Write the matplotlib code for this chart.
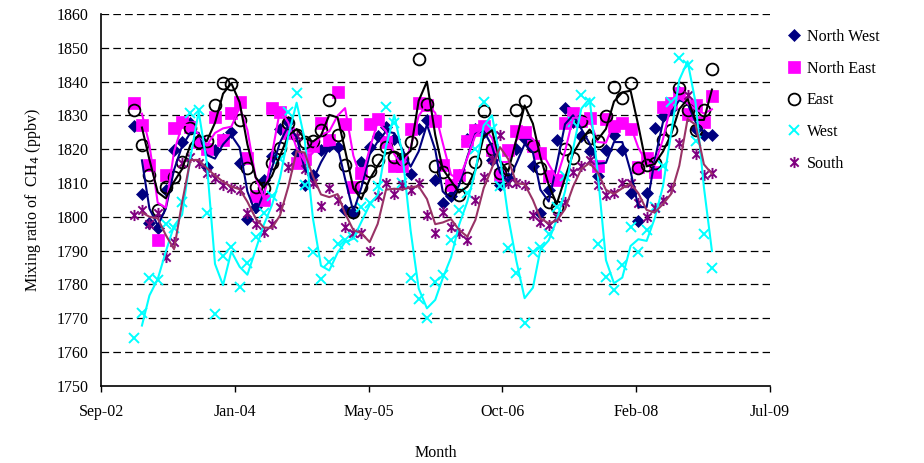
import numpy as np
import pandas as pd
import matplotlib
matplotlib.use("Agg")
import matplotlib.pyplot as plt
import matplotlib.dates as mdates
from matplotlib.path import Path

plt.rcParams['font.family'] = ['Liberation Serif', 'DejaVu Serif']
plt.rcParams['lines.scale_dashes'] = False

# ---------------- data (monthly, Jan 2003 - Dec 2008) ----------------
months = pd.date_range('2003-01-01', periods=72, freq='MS')

north_west = [1826.8, 1806.6, 1798.2, 1796.7, 1808.0, 1819.8, 1822.0, 1827.7, 1822.0, 1814.6, 1819.8, 1823.0,
              1825.2, 1815.8, 1799.2, 1803.0, 1811.0, 1818.0, 1826.0, 1828.0, 1819.0, 1809.4, 1812.4, 1819.8,
              1821.0, 1820.5, 1802.0, 1801.0, 1816.3, 1820.5, 1824.0, 1826.5, 1823.0, 1817.0, 1812.6, 1826.0,
              1828.6, 1811.0, 1804.0, 1806.0, 1812.5, 1823.0, 1826.0, 1825.0, 1816.8, 1809.4, 1811.5, 1820.0,
              1823.0, 1815.0, 1801.0, 1808.0, 1822.7, 1832.1, 1828.0, 1824.0, 1819.4, 1812.0, 1819.9, 1824.3,
              1819.9, 1807.0, 1798.7, 1807.0, 1826.3, 1829.7, 1832.0, 1837.0, 1830.0, 1826.0, 1824.3, 1824.2]

north_east = [1833.8, 1827.2, 1815.3, 1793.0, 1812.4, 1826.2, 1828.0, 1826.5, 1822.2, 1820.0, 1829.6, 1822.7,
              1830.6, 1834.1, 1817.3, 1806.0, 1805.0, 1832.2, 1831.0, 1824.7, 1815.8, 1817.0, 1820.9, 1827.7,
              1822.8, 1837.0, 1827.3, 1808.9, 1813.0, 1827.3, 1828.8, 1822.0, 1815.0, 1815.0, 1826.0, 1833.6,
              1833.2, 1828.3, 1815.4, 1809.5, 1812.5, 1822.3, 1825.8, 1826.8, 1819.9, 1812.5, 1819.9, 1825.3,
              1825.0, 1821.0, 1819.0, 1812.0, 1810.9, 1827.8, 1830.7, 1828.2, 1829.2, 1815.0, 1828.8, 1827.0,
              1827.7, 1826.0, 1814.8, 1817.3, 1813.3, 1832.6, 1833.6, 1836.6, 1830.5, 1833.1, 1828.0, 1835.6]

east = [1831.5, 1821.3, 1812.5, 1802.0, 1808.9, 1811.9, 1816.3, 1826.2, 1822.2, 1822.5, 1833.1, 1839.7,
        1839.3, 1828.5, 1814.4, 1808.9, 1808.4, 1815.8, 1820.3, 1827.7, 1824.2, 1822.2, 1822.3, 1825.7,
        1834.6, 1824.2, 1815.3, 1801.5, 1808.9, 1813.4, 1816.8, 1820.7, 1817.8, 1817.0, 1822.0, 1846.6,
        1833.4, 1815.0, 1813.3, 1807.9, 1806.4, 1811.4, 1816.3, 1831.2, 1820.0, 1813.0, 1814.0, 1831.7,
        1834.2, 1820.9, 1814.4, 1804.5, 1803.0, 1820.0, 1817.4, 1828.3, 1823.3, 1822.3, 1829.7, 1838.5,
        1835.1, 1839.5, 1814.4, 1815.4, 1815.8, 1822.8, 1825.7, 1838.0, 1831.6, 1825.7, 1831.6, 1843.7]

west = [1764.0, 1771.6, 1781.8, 1781.3, 1798.0, 1796.6, 1804.5, 1830.6, 1831.6, 1801.0, 1771.1, 1788.4,
        1791.1, 1779.3, 1786.4, 1794.1, 1801.0, 1806.0, 1817.0, 1831.0, 1836.5, 1809.5, 1789.5, 1781.5,
        1786.7, 1792.0, 1793.0, 1794.0, 1803.0, 1804.0, 1809.0, 1832.6, 1827.6, 1810.0, 1781.8, 1775.8,
        1770.0, 1780.8, 1782.8, 1793.1, 1802.0, 1807.0, 1820.0, 1834.0, 1826.0, 1809.0, 1790.7, 1783.3,
        1768.5, 1789.5, 1791.0, 1795.0, 1803.0, 1812.0, 1828.0, 1836.0, 1834.0, 1792.0, 1782.3, 1778.3,
        1785.7, 1797.0, 1789.7, 1796.0, 1803.0, 1815.0, 1834.0, 1847.0, 1845.0, 1822.5, 1795.0, 1784.7]

south = [1800.5, 1802.0, 1798.0, 1801.0, 1788.2, 1792.6, 1815.8, 1817.8, 1815.8, 1813.0, 1811.4, 1809.4,
         1808.4, 1807.9, 1801.0, 1798.0, 1795.6, 1797.8, 1803.0, 1814.8, 1824.0, 1814.0, 1810.0, 1803.2,
         1808.4, 1805.0, 1797.0, 1795.1, 1795.2, 1789.8, 1806.0, 1810.0, 1806.6, 1809.5, 1808.0, 1810.0,
         1800.5, 1795.1, 1801.5, 1797.1, 1795.1, 1793.1, 1805.0, 1811.9, 1817.0, 1824.2, 1809.9, 1809.9,
         1809.4, 1800.5, 1798.5, 1797.6, 1800.0, 1804.5, 1813.3, 1815.0, 1816.8, 1809.4, 1806.5, 1807.0,
         1809.9, 1809.9, 1804.0, 1800.0, 1802.5, 1805.0, 1808.4, 1821.8, 1836.0, 1818.5, 1812.5, 1812.9]

series_names = ['North West', 'North East', 'East', 'West', 'South']
x_tick_dates = ['2002-09-01', '2004-01-14', '2005-05-28', '2006-10-10', '2008-02-22', '2009-07-06']
x_tick_labels = ['Sep-02', 'Jan-04', 'May-05', 'Oct-06', 'Feb-08', 'Jul-09']
y_ticks = list(range(1750, 1861, 10))

# ---------------- styles ----------------
star = Path([(0, -1), (0, 1), (-0.75, -0.75), (0.75, 0.75), (-0.75, 0.75), (0.75, -0.75)],
            [Path.MOVETO, Path.LINETO, Path.MOVETO, Path.LINETO, Path.MOVETO, Path.LINETO])

styles = [
    dict(marker='D', ms=6.0, mfc='#000080', mec='#000080', mew=0.5, line='#000080'),
    dict(marker='s', ms=8.5, mfc='#FF00FF', mec='#FF00FF', mew=0.5, line='#FF00FF'),
    dict(marker='o', ms=8.5, mfc='none', mec='black', mew=1.3, line='black'),
    dict(marker='x', ms=7.0, mfc='none', mec='#00FFFF', mew=1.4, line='#00FFFF'),
    dict(marker=star, ms=8.0, mfc='none', mec='#800080', mew=1.4, line='#993366'),
]
data = [north_west, north_east, east, west, south]

fig = plt.figure(figsize=(9.24, 4.63), dpi=100)
ax = fig.add_axes([101/924, 1-385.7/463, (770-101)/924, (385.7-14)/463])

x = mdates.date2num(months.to_pydatetime())
handles = []
for name, vals, st in zip(series_names, data, styles):
    v = np.asarray(vals)
    h, = ax.plot(x, v, linestyle='none', marker=st['marker'], ms=st['ms'],
                 mfc=st['mfc'], mec=st['mec'], mew=st['mew'], label=name, zorder=3)
    handles.append(h)

# two-period moving-average trendlines (as in the original spreadsheet chart)
for vals, st in zip(data, styles):
    v = np.asarray(vals)
    ma = (v[1:] + v[:-1]) / 2.0
    ax.plot(x[1:], ma, color=st['line'], lw=1.5, zorder=4)

xt = mdates.date2num(pd.to_datetime(x_tick_dates).to_pydatetime())
ax.set_xlim(xt[0], xt[-1])
ax.set_xticks(xt)
ax.set_xticklabels(x_tick_labels)
ax.set_ylim(1750, 1860)
ax.set_yticks(y_ticks)

for yv in y_ticks[1:]:
    ax.axhline(yv, color='black', lw=0.9, linestyle=(0, (5.5, 3)), zorder=1)

for s in ['top', 'right']:
    ax.spines[s].set_visible(False)
ax.spines['left'].set_linewidth(1.2)
ax.spines['bottom'].set_linewidth(1.2)
ax.tick_params(axis='y', length=0, pad=9, labelsize=11.5)
ax.tick_params(axis='x', length=4, direction='out', pad=9, labelsize=11.5, width=1)

ax.set_ylabel('Mixing ratio of  CH$_4$ (ppbv)', fontsize=11.5, labelpad=10)
ax.set_xlabel('Month', fontsize=11.5, labelpad=18)

fig.legend(handles=handles, labels=series_names, loc='upper left',
           bbox_to_anchor=(787/924, 1-29/463), frameon=False, fontsize=11.5,
           handlelength=0.9, handletextpad=0.35, labelspacing=0.98, borderpad=0,
           borderaxespad=0)

fig.savefig('out.png', dpi=100)
